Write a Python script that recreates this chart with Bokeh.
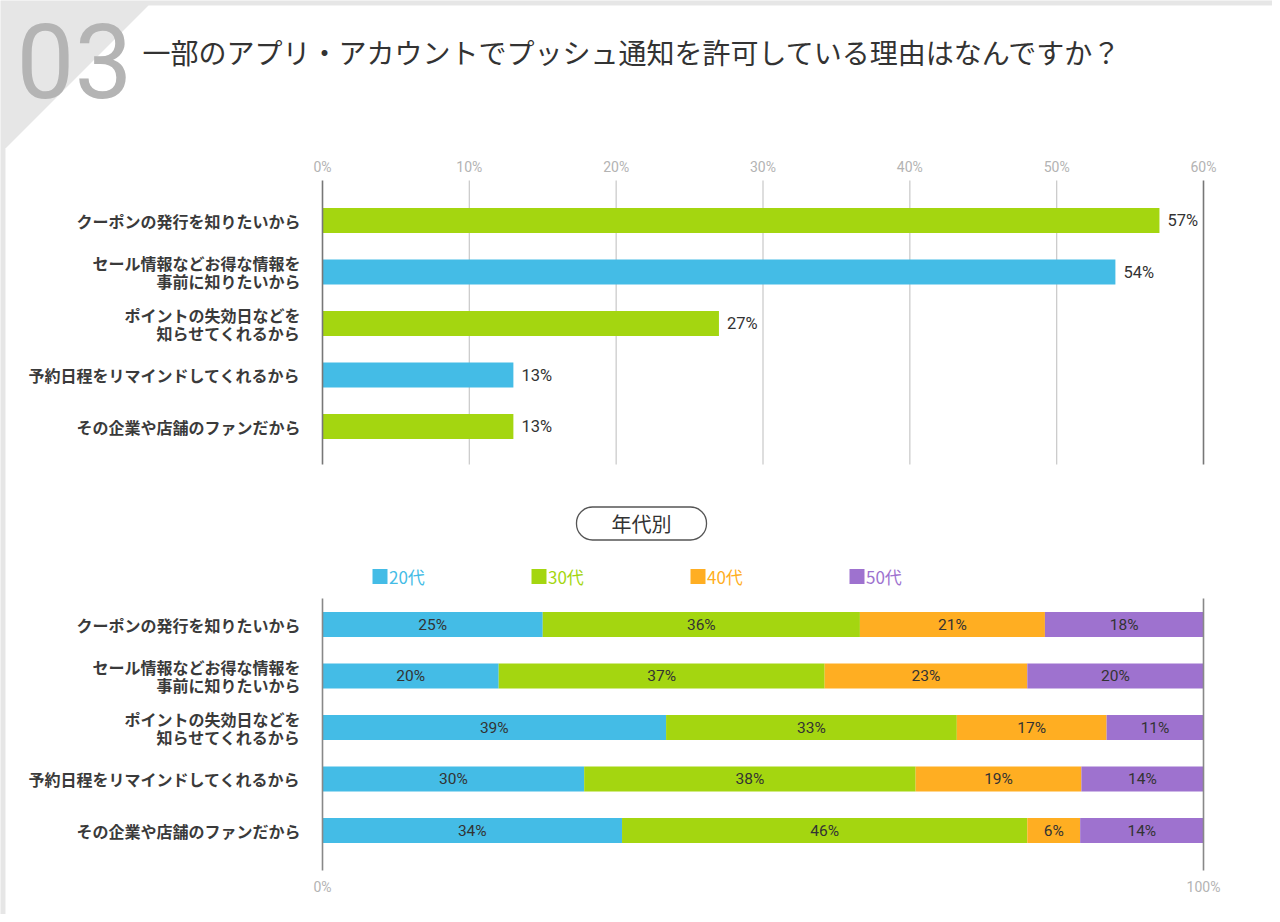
from bokeh.plotting import figure
from bokeh.models import Range1d, ColumnDataSource
from bokeh.core.properties import value
from bokeh.embed import file_html
from bokeh.resources import INLINE

# ---------------- data ----------------
BADGE = "03"
TITLE = "一部のアプリ・アカウントでプッシュ通知を許可している理由はなんですか？"
reasons = [
    "クーポンの発行を知りたいから",
    "セール情報などお得な情報を\n事前に知りたいから",
    "ポイントの失効日などを\n知らせてくれるから",
    "予約日程をリマインドしてくれるから",
    "その企業や店舗のファンだから",
]
overall = [57, 54, 27, 13, 13]
top_ticks = [0, 10, 20, 30, 40, 50, 60]
subtitle = "年代別"
age_groups = ["20代", "30代", "40代", "50代"]
age_20s = [25, 20, 39, 30, 34]
age_30s = [36, 37, 33, 38, 46]
age_40s = [21, 23, 17, 19, 6]
age_50s = [18, 20, 11, 14, 14]
bottom_ticks = [0, 100]

# ---------------- style / layout ----------------
GREEN = "#a4d610"
BLUE = "#44bce6"
ORANGE = "#ffae22"
PURPLE = "#9e72cf"
AGE_COLORS = [BLUE, GREEN, ORANGE, PURPLE]
TOP_COLORS = [GREEN, BLUE, GREEN, BLUE, GREEN]
JP = value("Noto Sans CJK JP")
NUM = value("Roboto")

W, H, OFF = 1272, 914, 0
AX0, AX1 = 322, 1203          # page x of 0% and max
k1 = (AX1 - AX0) / 60.0
s1 = -(AX0 - OFF) / k1
k2 = (AX1 - AX0) / 100.0
s2 = -(AX0 - OFF) / k2

p = figure(width=W, height=H, output_backend="svg", toolbar_location=None,
           x_range=Range1d(s1, s1 + W / k1), y_range=Range1d(OFF + H, OFF),
           x_axis_type=None, y_axis_type=None, min_border=0,
           background_fill_color="#e6e6e6", border_fill_color="#e6e6e6",
           outline_line_color=None)
p.extra_x_ranges = {"pct100": Range1d(s2, s2 + W / k2), "px": Range1d(OFF, OFF + W)}
p.grid.visible = False

# card
p.patch(x=[5, 148, 1275, 1275, 5], y=[148, 5, 5, 917, 917], x_range_name="px",
        fill_color="white", line_color=None)

# badge and title
p.text(x=[16], y=[60], text=[BADGE], x_range_name="px", text_font=NUM,
       text_font_size="103px", text_color="#b4b4b4", text_baseline="middle", text_align="left")
p.text(x=[142], y=[51], text=[TITLE], x_range_name="px", text_font=JP,
       text_font_size="28px", text_color="#333333", text_baseline="middle", text_align="left")

# ---------------- top chart ----------------
ROW_STEP = 51.5
top_y = [220 + ROW_STEP * i for i in range(len(reasons))]
BAR_H = 25

inner = [t for t in top_ticks if t not in (top_ticks[0], top_ticks[-1])]
p.segment(x0=inner, x1=inner, y0=[180] * len(inner), y1=[464] * len(inner),
          line_color="#cccccc", line_width=1.3)
src_top = ColumnDataSource(dict(y=top_y, v=overall, c=TOP_COLORS,
                                lab=[f"{v}%" for v in overall]))
p.hbar(y="y", left=0, right="v", height=BAR_H, fill_color="c", line_color=None, source=src_top)
edge = [top_ticks[0], top_ticks[-1]]
p.segment(x0=edge, x1=edge, y0=[180, 180], y1=[464, 464], line_color="#777777", line_width=1.6)
p.text(x="v", y="y", text="lab", source=src_top, x_offset=8, text_font=NUM,
       text_font_size="16.5px", text_color="#333333", text_baseline="middle", text_align="left")
p.text(x=top_ticks, y=[166] * len(top_ticks), text=[f"{t}%" for t in top_ticks],
       text_font=NUM, text_font_size="14px", text_color="#b3b3b3",
       text_baseline="middle", text_align="center")
p.text(x=[300] * len(reasons), y=top_y, text=reasons, x_range_name="px", text_font=JP,
       text_font_style="bold", text_font_size="16px", text_color="#3a3a3a",
       text_baseline="middle", text_align="right", text_line_height=0.75)

# ---------------- subtitle pill ----------------
p.rect(x=[641], y=[523], width=[130], height=[33], x_range_name="px",
       fill_color="white", line_color="#555555", line_width=1.3, border_radius=16)
p.text(x=[641], y=[523], text=[subtitle], x_range_name="px", text_font=JP,
       text_font_size="20px", text_color="#333333", text_baseline="middle", text_align="center")

# legend
leg_x = [379.5 + 159 * i for i in range(len(age_groups))]
p.rect(x=leg_x, y=[576] * 4, width=[15] * 4, height=[15] * 4, x_range_name="px",
       fill_color=AGE_COLORS, line_color=None)
p.text(x=[x + 9 for x in leg_x], y=[576] * 4, text=age_groups, x_range_name="px",
       text_font=JP, text_font_size="17px", text_color=AGE_COLORS,
       text_baseline="middle", text_align="left")

# ---------------- bottom chart (100% stacked) ----------------
bot_y = [624 + ROW_STEP * i for i in range(len(reasons))]
series = [age_20s, age_30s, age_40s, age_50s]
totals = [sum(s[i] for s in series) for i in range(len(reasons))]
cum = [0.0] * len(reasons)
for s, col in zip(series, AGE_COLORS):
    left = [cum[i] / totals[i] * 100 for i in range(len(reasons))]
    cum = [cum[i] + s[i] for i in range(len(reasons))]
    right = [cum[i] / totals[i] * 100 for i in range(len(reasons))]
    src = ColumnDataSource(dict(y=bot_y, l=left, r=right, m=[(a + b) / 2 for a, b in zip(left, right)],
                                lab=[f"{v}%" for v in s]))
    p.hbar(y="y", left="l", right="r", height=BAR_H, fill_color=col, line_color=None,
           source=src, x_range_name="pct100")
    p.text(x="m", y="y", text="lab", source=src, x_range_name="pct100", text_font=NUM,
           text_font_size="15.5px", text_color="#333333", text_baseline="middle", text_align="center")

p.segment(x0=bottom_ticks, x1=bottom_ticks, y0=[598, 598], y1=[870, 870], x_range_name="pct100",
          line_color="#888888", line_width=1.6)
p.text(x=bottom_ticks, y=[886, 886], text=[f"{t}%" for t in bottom_ticks], x_range_name="pct100",
       text_font=NUM, text_font_size="14px", text_color="#b3b3b3",
       text_baseline="middle", text_align="center")
p.text(x=[300] * len(reasons), y=bot_y, text=reasons, x_range_name="px", text_font=JP,
       text_font_style="bold", text_font_size="16px", text_color="#3a3a3a",
       text_baseline="middle", text_align="right", text_line_height=0.75)

open("out.html", "w").write(file_html(p, INLINE))
